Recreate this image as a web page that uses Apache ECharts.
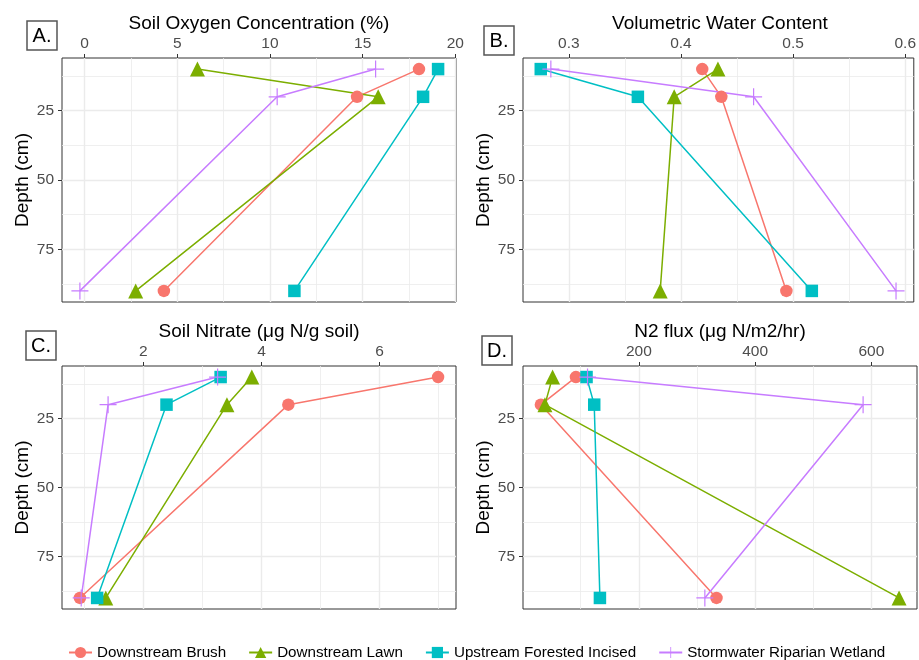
<!DOCTYPE html>
<html>
<head>
<meta charset="utf-8">
<script src="https://cdn.jsdelivr.net/npm/echarts@6/dist/echarts.min.js"></script>
<style>html,body{margin:0;padding:0;background:#fff;}#c{width:919px;height:660px;}</style>
</head>
<body>
<div id="c"></div>
<script>
// ---- data ----
const depths = [10, 20, 90];
const seriesNames = ['Downstream Brush', 'Downstream Lawn', 'Upstream Forested Incised', 'Stormwater Riparian Wetland'];

const oxygenBrush = [18.04, 14.7, 4.28];
const oxygenLawn = [6.09, 15.84, 2.76];
const oxygenUpstream = [19.07, 18.26, 11.32];
const oxygenStorm = [15.7, 10.39, -0.25];

const waterBrush = [0.419, 0.436, 0.494];
const waterLawn = [0.433, 0.394, 0.3815];
const waterUpstream = [0.275, 0.3616, 0.5167];
const waterStorm = [0.284, 0.4648, 0.5918];

const nitrateBrush = [6.99, 4.455, 0.927];
const nitrateLawn = [3.837, 3.416, 1.365];
const nitrateUpstream = [3.309, 2.393, 1.219];
const nitrateStorm = [3.258, 1.404, 0.949];

const n2Brush = [91.7, 31.5, 333.5];
const n2Lawn = [51.6, 38.4, 647.6];
const n2Upstream = [110, 123.2, 133];
const n2Storm = [111.7, 585.7, 313.5];

const depthTicks = [25, 50, 75];
const depthMinor = [12.5, 37.5, 62.5, 87.5];
const oxygenTicks = [0, 5, 10, 15, 20];
const oxygenMinor = [2.5, 7.5, 12.5, 17.5];
const waterTicks = [0.3, 0.4, 0.5, 0.6];
const waterMinor = [0.35, 0.45, 0.55];
const nitrateTicks = [2, 4, 6];
const nitrateMinor = [1, 3, 5, 7];
const n2Ticks = [0, 200, 400, 600];
const n2Minor = [100, 300, 500];

const titles = ['Soil Oxygen Concentration (%)', 'Volumetric Water Content', 'Soil Nitrate (\u03bcg N/g soil)', 'N2 flux (\u03bcg N/m2/hr)'];
const panelLetters = ['A.', 'B.', 'C.', 'D.'];

// ---- styles ----
const colors = ['#F8766D', '#7CAE00', '#00BFC4', '#C77CFF'];
const plusPath = 'path://M-0.07,-1 L0.07,-1 L0.07,-0.07 L1,-0.07 L1,0.07 L0.07,0.07 L0.07,1 L-0.07,1 L-0.07,0.07 L-1,0.07 L-1,-0.07 L-0.07,-0.07 Z';
const symbols = ['circle', 'triangle', 'rect', plusPath];
const symbolSizes = [12.5, 15, 12.5, 17];
const FONT = "'Liberation Sans', Arial, Helvetica, sans-serif";

const panels = [
  {vals: [oxygenBrush, oxygenLawn, oxygenUpstream, oxygenStorm], ticks: oxygenTicks, minor: oxygenMinor, grid: {left: 62, top: 58, width: 394, height: 244}, fmt: v => String(v)},
  {vals: [waterBrush, waterLawn, waterUpstream, waterStorm], ticks: waterTicks, minor: waterMinor, grid: {left: 523, top: 58, width: 394, height: 244}, fmt: v => v.toFixed(1)},
  {vals: [nitrateBrush, nitrateLawn, nitrateUpstream, nitrateStorm], ticks: nitrateTicks, minor: nitrateMinor, grid: {left: 62, top: 366, width: 394, height: 243}, fmt: v => String(v)},
  {vals: [n2Brush, n2Lawn, n2Upstream, n2Storm], ticks: n2Ticks, minor: n2Minor, grid: {left: 523, top: 366, width: 394, height: 243}, fmt: v => String(v)}
];

function expandRange(arrs) {
  let mn = Infinity, mx = -Infinity;
  arrs.forEach(a => a.forEach(v => { mn = Math.min(mn, v); mx = Math.max(mx, v); }));
  const pad = (mx - mn) * 0.05;
  return [mn - pad, mx + pad];
}
const dMin = Math.min(...depths), dMax = Math.max(...depths);
const dPad = (dMax - dMin) * 0.05;
const depthRange = [dMin - dPad, dMax + dPad];

const grids = [], xAxes = [], yAxes = [], series = [], graphics = [];
const majorLine = {show: true, lineStyle: {color: '#EBEBEB', width: 1.4}};
const minorLine = {show: true, lineStyle: {color: '#EBEBEB', width: 0.8}};

panels.forEach((p, i) => {
  const g = p.grid;
  grids.push(Object.assign({show: true, borderColor: '#333333', borderWidth: 1, backgroundColor: 'transparent', containLabel: false}, g));
  const xr = expandRange(p.vals);
  xAxes.push({type: 'value', gridIndex: i, position: 'bottom', min: xr[0], max: xr[1], z: 1,
    axisLine: {show: false, onZero: false}, axisLabel: {show: false},
    axisTick: {show: false, customValues: p.minor}, splitLine: minorLine});
  xAxes.push({type: 'value', gridIndex: i, position: 'top', min: xr[0], max: xr[1], z: 2,
    axisLine: {show: false, onZero: false},
    axisTick: {show: true, length: 4, customValues: p.ticks, lineStyle: {color: '#333333', width: 1}},
    axisLabel: {show: true, customValues: p.ticks, margin: 6, color: '#4D4D4D', fontSize: 15.5, fontFamily: FONT, formatter: p.fmt},
    splitLine: majorLine});
  yAxes.push({type: 'value', gridIndex: i, position: 'right', inverse: true, min: depthRange[0], max: depthRange[1], z: 1,
    axisLine: {show: false, onZero: false}, axisLabel: {show: false},
    axisTick: {show: false, customValues: depthMinor}, splitLine: minorLine});
  yAxes.push({type: 'value', gridIndex: i, position: 'left', inverse: true, min: depthRange[0], max: depthRange[1], z: 2,
    axisLine: {show: false, onZero: false},
    axisTick: {show: true, length: 4, customValues: depthTicks, lineStyle: {color: '#333333', width: 1}},
    axisLabel: {show: true, customValues: depthTicks, margin: 8, color: '#4D4D4D', fontSize: 15.5, fontFamily: FONT},
    splitLine: majorLine});

  p.vals.forEach((vals, k) => {
    series.push({
      name: seriesNames[k], type: 'line', xAxisIndex: i * 2 + 1, yAxisIndex: i * 2 + 1,
      data: vals.map((v, j) => [v, depths[j]]),
      symbol: symbols[k], symbolSize: symbolSizes[k], showSymbol: true,
      lineStyle: {color: colors[k], width: 1.5},
      itemStyle: {color: colors[k], borderWidth: 0},
      emphasis: {disabled: true}, animation: false, z: 3, silent: true
    });
  });

  const cx = g.left + g.width / 2;
  const cy = g.top + g.height / 2;
  graphics.push({type: 'text', x: cx, y: g.top - 34, style: {text: titles[i], fill: '#000', font: '19px ' + FONT, textAlign: 'center', textVerticalAlign: 'middle'}});
  graphics.push({type: 'text', x: g.left - 39, y: cy, rotation: Math.PI / 2, style: {text: 'Depth (cm)', fill: '#000', font: '19px ' + FONT, textAlign: 'center', textVerticalAlign: 'middle'}});
});

const boxes = [[27, 21], [484, 26], [26, 331], [482, 336]];
boxes.forEach((b, i) => {
  graphics.push({type: 'rect', shape: {x: b[0], y: b[1], width: 30, height: 29}, style: {fill: '#fff', stroke: '#555555', lineWidth: 1.5}});
  graphics.push({type: 'text', x: b[0] + 15, y: b[1] + 15, style: {text: panelLetters[i], fill: '#000', font: '20px ' + FONT, textAlign: 'center', textVerticalAlign: 'middle'}});
});

const chart = echarts.init(document.getElementById('c'), null, {renderer: 'canvas'});
chart.setOption({
  animation: false,
  backgroundColor: '#fff',
  grid: grids,
  xAxis: xAxes,
  yAxis: yAxes,
  series: series,
  graphic: graphics,
  legend: {
    data: seriesNames, left: 63, top: 640, itemWidth: 23, itemHeight: 14, itemGap: 22,
    textStyle: {fontSize: 15.2, fontFamily: FONT, color: '#000'}, selectedMode: false
  }
});
</script>
</body>
</html>
